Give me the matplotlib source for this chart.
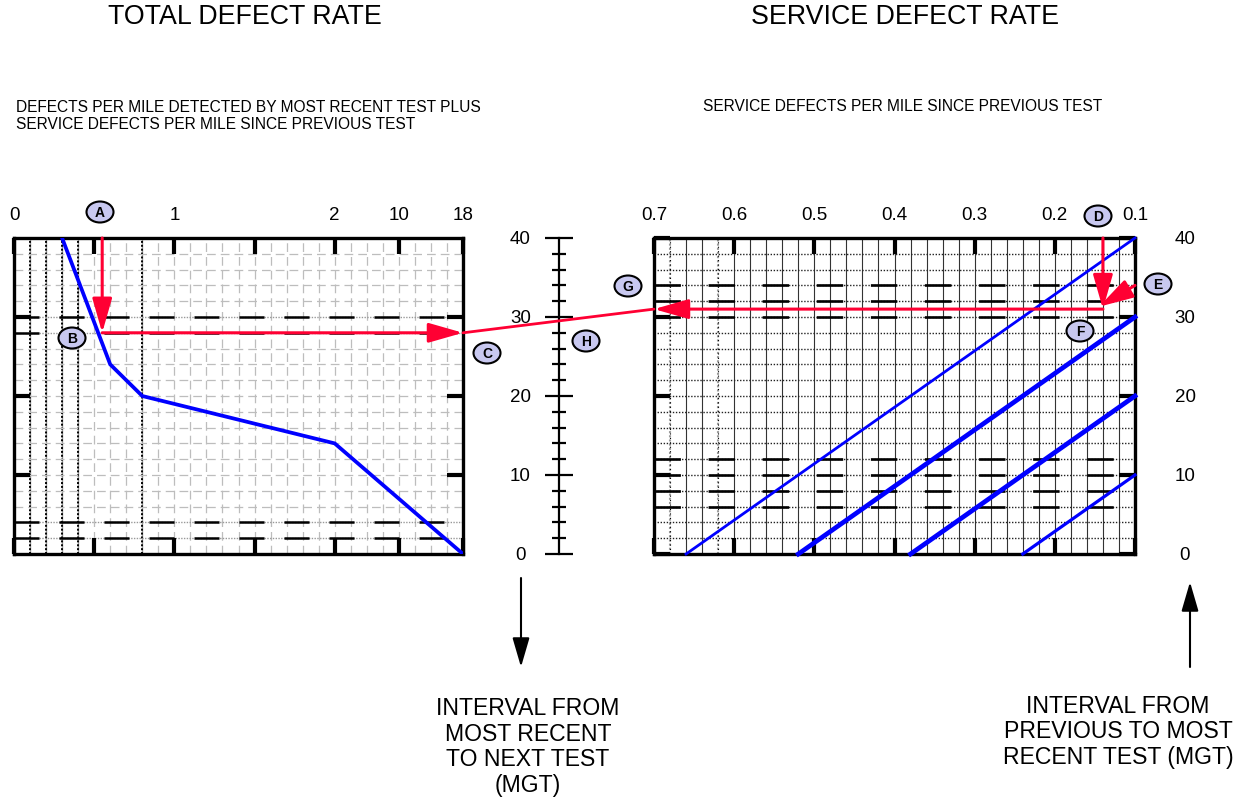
import numpy as np
import matplotlib
matplotlib.use('Agg')
import matplotlib.pyplot as plt
from matplotlib.patches import Ellipse, ConnectionPatch

plt.rcParams['font.family'] = ['Liberation Sans', 'DejaVu Sans']

# Data ##############
# total defect rate curve (defects per mile vs interval to next test)
total_rate = [0.3, 0.6, 0.8, 2, 18]
total_mgt = [40, 24, 20, 14, 0]

# piecewise x scale of the left chart
scale_vals = [0, 1, 2, 10, 18]
scale_pos = [0, 10, 20, 24, 28]
left_ticks = [0, 0.5, 1, 1.5, 2, 10, 18]
left_ticklabels = ['0', '', '1', '', '2', '10', '18']

# service defect rate lines (rate at 0 MGT -> rate at top end)
service_start = [0.66, 0.52, 0.38, 0.24]
service_end = [0.1, 0.1, 0.1, 0.1]
service_end_mgt = [40, 30, 20, 10]

right_ticks = [0.7, 0.6, 0.5, 0.4, 0.3, 0.2, 0.1]
right_ticklabels = ['0.7', '0.6', '0.5', '0.4', '0.3', '0.2', '0.1']
mgt_ticks = [0, 10, 20, 30, 40]

# worked example
ex_total = 0.55
ex_next_mgt = 28
ex_service = 0.14
ex_prev_mgt = 31
ex_e_mgt = 34

point_names = ['A', 'B', 'C', 'D', 'E', 'F', 'G', 'H']
point_px = [(100, 212), (72, 338), (487, 353), (1098, 216),
            (1158, 284), (1080, 331), (628, 286), (586, 341)]

# Layout helpers ######
W, H = 1247, 809
RED = '#ff0033'
BLUE = '#0000ff'

def fbox(x0, y0, x1, y1):
  return [x0/W, 1 - y1/H, (x1 - x0)/W, (y1 - y0)/H]

def fwd(x):
  return np.interp(x, scale_vals, scale_pos)

def inv(p):
  return np.interp(p, scale_pos, scale_vals)

arrow_red = dict(arrowstyle='-|>,head_length=1.05,head_width=0.3', color=RED, lw=2.2,
                 mutation_scale=20, shrinkA=0, shrinkB=0)

fig = plt.figure(figsize=(W/100, H/100), dpi=100)

# Left chart: total defect rate
axL = fig.add_axes(fbox(14, 238, 463, 554))
axL.set_xscale('function', functions=(fwd, inv))
axL.set_xlim(0, 18)
axL.set_ylim(0, 40)

grid_v = list(np.round(np.arange(0.1, 2.0, 0.1), 2)) + [2, 4, 6, 8, 10, 12, 14, 16]
for v in grid_v:
  if v in (0.1, 0.2, 0.3, 0.4, 0.8):
    axL.axvline(v, color='#999999', lw=1.0, zorder=1)
    axL.axvline(v, color='black', lw=1.4, ls=(0, (1, 1)), zorder=1)
  else:
    axL.axvline(v, color='#bdbdbd', lw=0.9, dashes=(7, 4), zorder=1)
for hh in range(2, 40, 2):
  if hh in (2, 4, 28, 30):
    axL.axhline(hh, color='#999999', lw=1.0, ls=(0, (1, 1)), zorder=1)
    axL.axhline(hh, color='black', lw=1.8, dashes=(10, 8), zorder=1)
  else:
    axL.axhline(hh, color='#bdbdbd', lw=0.9, dashes=(7, 4), zorder=1)

axL.plot(total_rate, total_mgt, color=BLUE, lw=2.7, zorder=3, solid_joinstyle='miter')

axL.annotate('', xy=(ex_total, ex_next_mgt), xytext=(ex_total, 40), arrowprops=arrow_red, zorder=4)
axL.annotate('', xy=(18, ex_next_mgt), xytext=(ex_total, ex_next_mgt), arrowprops=arrow_red, zorder=4)

axL.set_xticks(left_ticks)
axL.set_xticklabels(left_ticklabels)
axL.set_yticks([10, 20, 30])
axL.tick_params(axis='x', direction='in', length=11.5, width=3, top=True, bottom=True,
                labeltop=True, labelbottom=False, pad=10, labelsize=13.5)
axL.tick_params(axis='y', direction='in', length=11.5, width=3, left=True, right=True,
                labelleft=False, labelright=False)
for sp in axL.spines.values():
  sp.set_linewidth(2.4)

# Right chart: service defect rate
axR = fig.add_axes(fbox(654, 238, 1135, 554))
axR.set_xlim(0.7, 0.1)
axR.set_ylim(0, 40)

for v in np.round(np.arange(0.12, 0.7, 0.02), 2):
  if v in (0.68, 0.62):
    axR.axvline(v, color='#9a9a9a', lw=1.5, ls=(0, (1, 1)), zorder=1)
    axR.axvline(v, color='black', lw=0.8, ls=(0, (1, 3)), zorder=1)
  else:
    axR.axvline(v, color='#333333', lw=0.8, zorder=1)
for hh in range(2, 40, 2):
  axR.axhline(hh, color='#222222', lw=1.0, ls=(0, (1, 1.2)), zorder=1)
  if hh in (6, 8, 10, 12, 30, 32, 34):
    axR.axhline(hh, color='black', lw=1.9, dashes=(10, 10.5), zorder=1)

service_lw = [2.0, 3.4, 3.4, 2.3]
for x0, x1, y1, lw in zip(service_start, service_end, service_end_mgt, service_lw):
  axR.plot([x0, x1], [0, y1], color=BLUE, lw=lw, zorder=3, clip_on=False)

axR.annotate('', xy=(ex_service, ex_prev_mgt), xytext=(ex_service, 40), arrowprops=arrow_red, zorder=4)
axR.annotate('', xy=(ex_service + 0.005, ex_prev_mgt + 0.3), xytext=(0.1, ex_e_mgt),
             arrowprops=arrow_red, zorder=4)
axR.annotate('', xy=(0.7, ex_prev_mgt), xytext=(ex_service, ex_prev_mgt), arrowprops=arrow_red, zorder=4)

axR.set_xticks(right_ticks)
axR.set_xticklabels(right_ticklabels)
axR.set_yticks(mgt_ticks)
axR.tick_params(axis='x', direction='in', length=11.5, width=3, top=True, bottom=True,
                labeltop=True, labelbottom=False, pad=10, labelsize=13.5)
axR.tick_params(axis='y', direction='in', length=11.5, width=3, left=True, right=True,
                labelleft=False, labelright=True, pad=36, labelsize=13.5)
for lab in axR.get_yticklabels():
  lab.set_horizontalalignment('center')
for sp in axR.spines.values():
  sp.set_linewidth(2.4)

# Middle scale: interval from most recent to next test
axM = fig.add_axes(fbox(559, 238, 560, 554))
axM.set_ylim(0, 40)
axM.set_xticks([])
for k in ('top', 'bottom', 'right'):
  axM.spines[k].set_visible(False)
axM.spines['left'].set_linewidth(1.6)
axM.set_yticks(mgt_ticks)
axM.set_yticks([t for t in range(2, 40, 2) if t % 10 != 0], minor=True)
axM.tick_params(axis='y', which='major', direction='inout', length=19.5, width=1.6,
                pad=18, labelsize=13.5)
axM.tick_params(axis='y', which='minor', direction='inout', length=9.5, width=1.6)
for lab in axM.get_yticklabels():
  lab.set_horizontalalignment('center')
axM.patch.set_visible(False)

# Red line joining the two charts through the middle scale
con = ConnectionPatch(xyA=(0.7, ex_prev_mgt), coordsA=axR.transData,
                      xyB=(18, ex_next_mgt), coordsB=axL.transData,
                      color=RED, lw=2.0, zorder=6)
fig.add_artist(con)

# Overlay for titles, notes and point labels
axO = fig.add_axes([0, 0, 1, 1], zorder=10)
axO.set_xlim(0, W)
axO.set_ylim(H, 0)
axO.axis('off')

axO.text(245, 17, 'TOTAL DEFECT RATE', ha='center', va='center', fontsize=19.3)
axO.text(905, 17, 'SERVICE DEFECT RATE', ha='center', va='center', fontsize=19.3)
axO.text(16, 116, 'DEFECTS PER MILE DETECTED BY MOST RECENT TEST PLUS\nSERVICE DEFECTS PER MILE SINCE PREVIOUS TEST',
         ha='left', va='center', fontsize=11.2, linespacing=1.1)
axO.text(703, 106, 'SERVICE DEFECTS PER MILE SINCE PREVIOUS TEST', ha='left', va='center', fontsize=11.2)

axO.text(528, 747, 'INTERVAL FROM\nMOST RECENT\nTO NEXT TEST\n(MGT)', ha='center', va='center',
         fontsize=16.6, linespacing=1.15)
axO.text(1118, 732, 'INTERVAL FROM\nPREVIOUS TO MOST\nRECENT TEST (MGT)', ha='center', va='center',
         fontsize=16.6, linespacing=1.15)

arrow_black = dict(arrowstyle='-|>,head_length=1.2,head_width=0.35', color='black', lw=1.5,
                   mutation_scale=15, shrinkA=0, shrinkB=0)
axO.annotate('', xy=(521, 667), xytext=(521, 578), arrowprops=arrow_black)
axO.annotate('', xy=(1190, 582), xytext=(1190, 667), arrowprops=arrow_black)

for name, (px, py) in zip(point_names, point_px):
  axO.add_patch(Ellipse((px, py), 27, 21, facecolor='#c8c8f0', edgecolor='black', lw=1.5))
  axO.text(px, py + 1, name, ha='center', va='center', fontsize=10, fontweight='bold')

fig.savefig('out.png', dpi=100)
